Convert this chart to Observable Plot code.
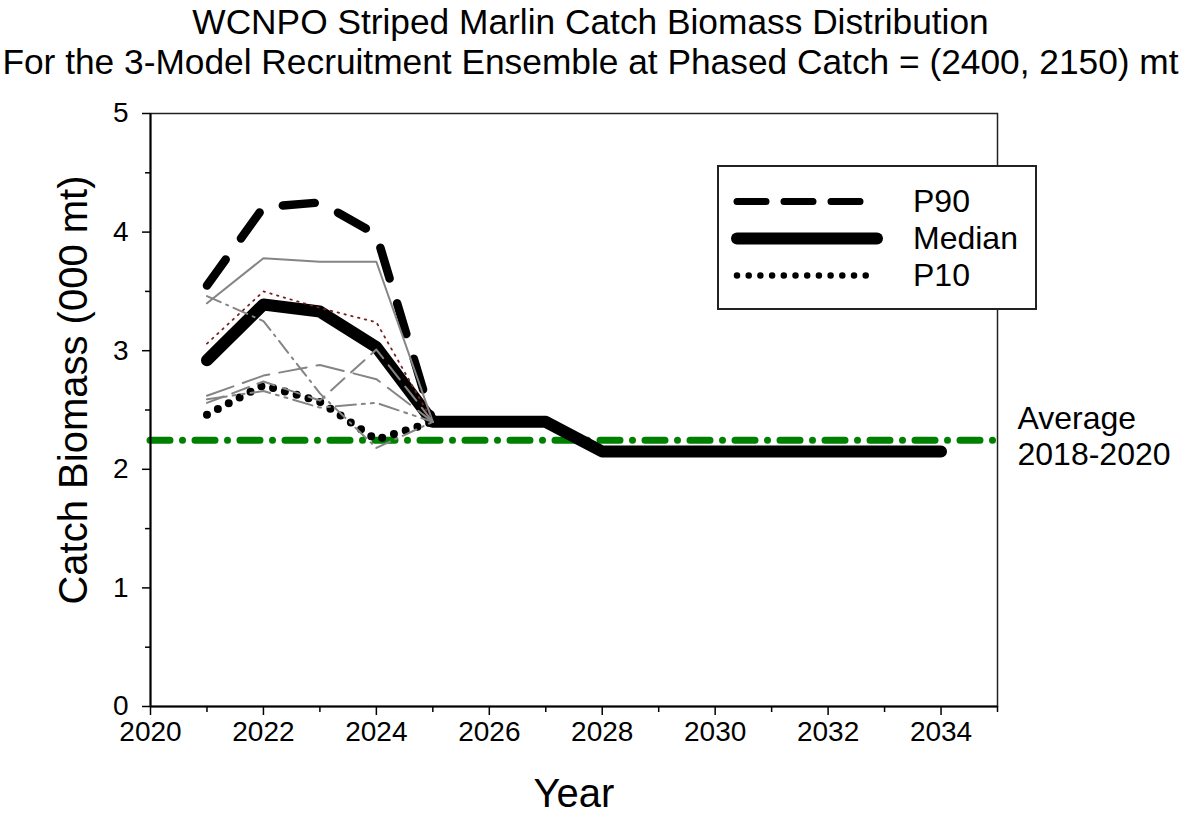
<!DOCTYPE html>
<html>
<head>
<meta charset="utf-8">
<script src="https://cdn.jsdelivr.net/npm/d3@7"></script>
<script src="https://cdn.jsdelivr.net/npm/@observablehq/plot@0.6"></script>
<style>
  html, body { margin: 0; padding: 0; background: #fff; }
  #wrap { position: relative; width: 1181px; height: 819px; font-family: "Liberation Sans", Arial, sans-serif; color: #000; }
  #title { height: 92px; text-align: center; font-size: 35.3px; line-height: 40px; padding-top: 2px; box-sizing: border-box; white-space: nowrap; }
  #legend { position: absolute; left: 717px; top: 165px; width: 320px; height: 145px; box-sizing: border-box; border: 2px solid #222; background: #fff; }
  #legend .row { position: absolute; left: 12px; height: 37px; }
  #legend .row span { position: absolute; left: 182px; top: 0; font-size: 32px; line-height: 37px; white-space: nowrap; }
</style>
</head>
<body>
<div id="wrap">
  <div id="title">WCNPO Striped Marlin Catch Biomass Distribution<br>For the 3-Model Recruitment Ensemble at Phased Catch = (2400, 2150) mt</div>
  <div id="chart"></div>
  <div id="legend"></div>
</div>
<script>
// ---- data ----
const years = [2021, 2022, 2023, 2024, 2025, 2026, 2027, 2028, 2029, 2030, 2031, 2032, 2033, 2034];
const p90    = [3.55, 4.21, 4.25, 3.98, 2.40, 2.40, 2.40, 2.15, 2.15, 2.15, 2.15, 2.15, 2.15, 2.15];
const median = [2.92, 3.39, 3.33, 3.03, 2.40, 2.40, 2.40, 2.15, 2.15, 2.15, 2.15, 2.15, 2.15, 2.15];
const p10    = [2.46, 2.71, 2.57, 2.25, 2.40, 2.40, 2.40, 2.15, 2.15, 2.15, 2.15, 2.15, 2.15, 2.15];

// individual model percentile lines (thin)
const thinYears = [2021, 2022, 2023, 2024, 2025];
const thinA = [3.40, 3.78, 3.75, 3.75, 2.40];
const thinB = [3.06, 3.50, 3.36, 3.24, 2.40];
const thinC = [3.46, 3.25, 2.64, 2.18, 2.40];
const thinD = [2.62, 2.79, 2.88, 2.76, 2.40];
const thinE = [2.56, 2.74, 2.58, 3.01, 2.40];
const thinF = [2.59, 2.66, 2.52, 2.56, 2.40];

const avgCatch = 2.245;
const avgLabel = "Average\n2018-2020";
const yLabel = "Catch Biomass (000 mt)";
const xLabel = "Year";

const xMajorTicks = [2020, 2022, 2024, 2026, 2028, 2030, 2032, 2034];
const xMinorTicks = [2021, 2023, 2025, 2027, 2029, 2031, 2033, 2035];
const yMajorTicks = [0, 1, 2, 3, 4, 5];
const yMinorTicks = [0.5, 1.5, 2.5, 3.5, 4.5];

const legendLabels = ["P90", "Median", "P10"];

// ---- build tables ----
const main = years.map((yr, i) => ({year: yr, p90: p90[i], median: median[i], p10: p10[i]}));
const thinSeries = [
  {vals: thinA, stroke: "#858585", dash: null, w: 2},
  {vals: thinB, stroke: "#7a1f1f", dash: "1.5,5.5", w: 1.8},
  {vals: thinC, stroke: "#858585", dash: "15,6,2,6", w: 2},
  {vals: thinD, stroke: "#858585", dash: "28,10", w: 2},
  {vals: thinE, stroke: "#858585", dash: "18,9", w: 2},
  {vals: thinF, stroke: "#858585", dash: "20,6,3,6,3,6", w: 2}
];
const thinMarks = thinSeries.map(s => Plot.line(thinYears.map((yr, i) => ({year: yr, v: s.vals[i]})), {
  x: "year", y: "v", stroke: s.stroke, strokeWidth: s.w, strokeDasharray: s.dash
}));

const FONT = "Liberation Sans, Arial, sans-serif";
const yMid = (yMajorTicks[0] + yMajorTicks[yMajorTicks.length - 1]) / 2;

const chart = Plot.plot({
  width: 1181,
  height: 727,
  marginTop: 21,
  marginBottom: 113,
  marginLeft: 150,
  marginRight: 184,
  style: {fontFamily: FONT, fontSize: "28px", color: "#000", background: "#fff", overflow: "visible"},
  x: {domain: [2020, 2035]},
  y: {domain: [0, 5]},
  marks: [
    Plot.frame({stroke: "#222", strokeWidth: 1.5}),
    Plot.ruleY([avgCatch], {stroke: "#008000", strokeWidth: 7, strokeDasharray: "20,12.5,0,12.5", strokeLinecap: "round"}),
    Plot.line(main, {x: "year", y: "p90", stroke: "#000", strokeWidth: 8.5, strokeDasharray: "32,26", strokeLinecap: "round", strokeLinejoin: "round"}),
    Plot.line(main, {x: "year", y: "median", stroke: "#000", strokeWidth: 12, strokeLinecap: "round", strokeLinejoin: "round"}),
    Plot.line(main, {x: "year", y: "p10", stroke: "#000", strokeWidth: 8, strokeDasharray: "0,12.3", strokeLinecap: "round"}),
    ...thinMarks,
    Plot.axisX(xMajorTicks, {tickSize: 9, tickPadding: 6, tickFormat: d => String(d), label: null, fontSize: 28, strokeWidth: 1.5}),
    Plot.axisX(xMinorTicks, {tickSize: 6, tickFormat: () => "", label: null, strokeWidth: 1.5}),
    Plot.axisY(yMajorTicks, {tickSize: 8, tickPadding: 14, tickFormat: d => String(d), label: null, fontSize: 28, strokeWidth: 1.5}),
    Plot.axisY(yMinorTicks, {tickSize: 5, tickFormat: () => "", label: null, strokeWidth: 1.5}),
    Plot.ruleX([2020], {stroke: "#000", strokeWidth: 2}),
    Plot.ruleY([0], {stroke: "#000", strokeWidth: 2}),
    Plot.text([avgLabel], {frameAnchor: "right", y: () => avgCatch, dx: 20, dy: -5, textAnchor: "start", lineAnchor: "middle", lineHeight: 1.15, fontSize: 32, text: d => d}),
    Plot.text([xLabel], {frameAnchor: "bottom", dy: 100, fontSize: 40, text: d => d}),
    Plot.text([yLabel], {frameAnchor: "left", y: () => yMid, dx: -76, dy: -20, rotate: -90, textAnchor: "middle", lineAnchor: "middle", fontSize: 40, text: d => d})
  ]
});
document.getElementById("chart").appendChild(chart);

// ---- legend ----
const legendStyles = [
  {w: 7, dash: "29,18", cap: "round"},
  {w: 12, dash: null, cap: "round"},
  {w: 6.5, dash: "0,11.7", cap: "round"}
];
const leg = document.getElementById("legend");
legendLabels.forEach((lab, i) => {
  const row = document.createElement("div");
  row.className = "row";
  row.style.top = (16 + i * 37) + "px";
  const s = legendStyles[i];
  row.innerHTML = `<svg width="160" height="37"><line x1="6" x2="146" y1="18.5" y2="18.5" stroke="#000" stroke-width="${s.w}" stroke-linecap="${s.cap}" ${s.dash ? `stroke-dasharray="${s.dash}"` : ""}/></svg><span>${lab}</span>`;
  leg.appendChild(row);
});
</script>
</body>
</html>
